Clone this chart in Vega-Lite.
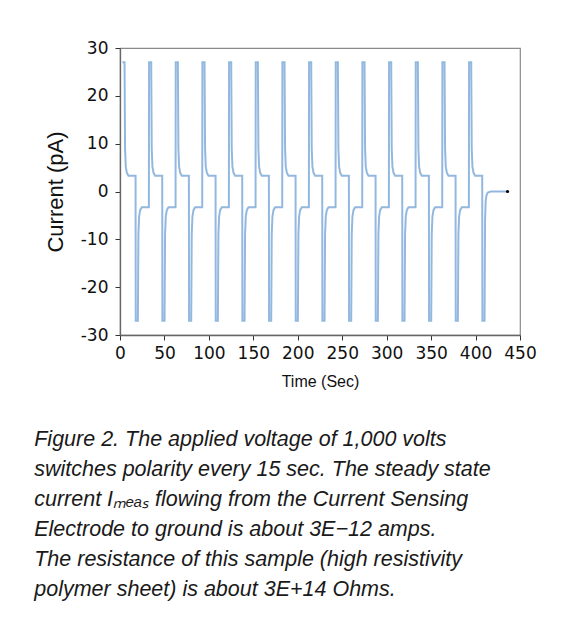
{
  "$schema": "https://vega.github.io/schema/vega-lite/v6.json",
  "width": 400,
  "height": 287,
  "autosize": "none",
  "padding": {"left": 120, "top": 48, "right": 53, "bottom": 283},
  "background": "white",
  "config": {
    "view": {"stroke": "#8a8a8a", "strokeWidth": 1.2},
    "axis": {
      "labelFont": "DejaVu Sans",
      "labelFontSize": 17,
      "labelColor": "#111",
      "titleFont": "Liberation Sans",
      "titleFontWeight": "normal",
      "titleColor": "#111",
      "domainColor": "#666",
      "domainWidth": 1.3,
      "tickColor": "#333",
      "tickSize": 5,
      "grid": false
    }
  },
  "title": {
    "text": [
      "Figure 2. The applied voltage of 1,000 volts",
      "switches polarity every 15 sec. The steady state",
      "current Iₘₑₐₛ flowing from the Current Sensing",
      "Electrode to ground is about 3E−12 amps.",
      "The resistance of this sample (high resistivity",
      "polymer sheet) is about 3E+14 Ohms."
    ],
    "orient": "bottom",
    "anchor": "start",
    "frame": "bounds",
    "font": "Liberation Sans",
    "fontStyle": "italic",
    "fontWeight": "normal",
    "fontSize": 21.5,
    "lineHeight": 30,
    "color": "#1a1a1a",
    "offset": 40,
    "dx": -10
  },
  "layer": [
    {
      "data": {"values": [
        {"t": 2.7, "current": 27}, {"t": 5.1, "current": 27}, {"t": 5.7, "current": 9}, {"t": 6.5, "current": 5.2}, {"t": 7.7, "current": 3.9}, {"t": 9.5, "current": 3.3},
        {"t": 17.5, "current": 3.3}, {"t": 17.7, "current": -27}, {"t": 20.1, "current": -27}, {"t": 20.7, "current": -9}, {"t": 21.5, "current": -5.2}, {"t": 22.7, "current": -3.9}, {"t": 24.5, "current": -3.3},
        {"t": 32.5, "current": -3.3}, {"t": 32.7, "current": 27}, {"t": 35.1, "current": 27}, {"t": 35.7, "current": 9}, {"t": 36.5, "current": 5.2}, {"t": 37.7, "current": 3.9}, {"t": 39.5, "current": 3.3},
        {"t": 47.5, "current": 3.3}, {"t": 47.7, "current": -27}, {"t": 50.1, "current": -27}, {"t": 50.7, "current": -9}, {"t": 51.5, "current": -5.2}, {"t": 52.7, "current": -3.9}, {"t": 54.5, "current": -3.3},
        {"t": 62.5, "current": -3.3}, {"t": 62.7, "current": 27}, {"t": 65.1, "current": 27}, {"t": 65.7, "current": 9}, {"t": 66.5, "current": 5.2}, {"t": 67.7, "current": 3.9}, {"t": 69.5, "current": 3.3},
        {"t": 77.5, "current": 3.3}, {"t": 77.7, "current": -27}, {"t": 80.1, "current": -27}, {"t": 80.7, "current": -9}, {"t": 81.5, "current": -5.2}, {"t": 82.7, "current": -3.9}, {"t": 84.5, "current": -3.3},
        {"t": 92.5, "current": -3.3}, {"t": 92.7, "current": 27}, {"t": 95.1, "current": 27}, {"t": 95.7, "current": 9}, {"t": 96.5, "current": 5.2}, {"t": 97.7, "current": 3.9}, {"t": 99.5, "current": 3.3},
        {"t": 107.5, "current": 3.3}, {"t": 107.7, "current": -27}, {"t": 110.1, "current": -27}, {"t": 110.7, "current": -9}, {"t": 111.5, "current": -5.2}, {"t": 112.7, "current": -3.9}, {"t": 114.5, "current": -3.3},
        {"t": 122.5, "current": -3.3}, {"t": 122.7, "current": 27}, {"t": 125.1, "current": 27}, {"t": 125.7, "current": 9}, {"t": 126.5, "current": 5.2}, {"t": 127.7, "current": 3.9}, {"t": 129.5, "current": 3.3},
        {"t": 137.5, "current": 3.3}, {"t": 137.7, "current": -27}, {"t": 140.1, "current": -27}, {"t": 140.7, "current": -9}, {"t": 141.5, "current": -5.2}, {"t": 142.7, "current": -3.9}, {"t": 144.5, "current": -3.3},
        {"t": 152.5, "current": -3.3}, {"t": 152.7, "current": 27}, {"t": 155.1, "current": 27}, {"t": 155.7, "current": 9}, {"t": 156.5, "current": 5.2}, {"t": 157.7, "current": 3.9}, {"t": 159.5, "current": 3.3},
        {"t": 167.5, "current": 3.3}, {"t": 167.7, "current": -27}, {"t": 170.1, "current": -27}, {"t": 170.7, "current": -9}, {"t": 171.5, "current": -5.2}, {"t": 172.7, "current": -3.9}, {"t": 174.5, "current": -3.3},
        {"t": 182.5, "current": -3.3}, {"t": 182.7, "current": 27}, {"t": 185.1, "current": 27}, {"t": 185.7, "current": 9}, {"t": 186.5, "current": 5.2}, {"t": 187.7, "current": 3.9}, {"t": 189.5, "current": 3.3},
        {"t": 197.5, "current": 3.3}, {"t": 197.7, "current": -27}, {"t": 200.1, "current": -27}, {"t": 200.7, "current": -9}, {"t": 201.5, "current": -5.2}, {"t": 202.7, "current": -3.9}, {"t": 204.5, "current": -3.3},
        {"t": 212.5, "current": -3.3}, {"t": 212.7, "current": 27}, {"t": 215.1, "current": 27}, {"t": 215.7, "current": 9}, {"t": 216.5, "current": 5.2}, {"t": 217.7, "current": 3.9}, {"t": 219.5, "current": 3.3},
        {"t": 227.5, "current": 3.3}, {"t": 227.7, "current": -27}, {"t": 230.1, "current": -27}, {"t": 230.7, "current": -9}, {"t": 231.5, "current": -5.2}, {"t": 232.7, "current": -3.9}, {"t": 234.5, "current": -3.3},
        {"t": 242.5, "current": -3.3}, {"t": 242.7, "current": 27}, {"t": 245.1, "current": 27}, {"t": 245.7, "current": 9}, {"t": 246.5, "current": 5.2}, {"t": 247.7, "current": 3.9}, {"t": 249.5, "current": 3.3},
        {"t": 257.5, "current": 3.3}, {"t": 257.7, "current": -27}, {"t": 260.1, "current": -27}, {"t": 260.7, "current": -9}, {"t": 261.5, "current": -5.2}, {"t": 262.7, "current": -3.9}, {"t": 264.5, "current": -3.3},
        {"t": 272.5, "current": -3.3}, {"t": 272.7, "current": 27}, {"t": 275.1, "current": 27}, {"t": 275.7, "current": 9}, {"t": 276.5, "current": 5.2}, {"t": 277.7, "current": 3.9}, {"t": 279.5, "current": 3.3},
        {"t": 287.5, "current": 3.3}, {"t": 287.7, "current": -27}, {"t": 290.1, "current": -27}, {"t": 290.7, "current": -9}, {"t": 291.5, "current": -5.2}, {"t": 292.7, "current": -3.9}, {"t": 294.5, "current": -3.3},
        {"t": 302.5, "current": -3.3}, {"t": 302.7, "current": 27}, {"t": 305.1, "current": 27}, {"t": 305.7, "current": 9}, {"t": 306.5, "current": 5.2}, {"t": 307.7, "current": 3.9}, {"t": 309.5, "current": 3.3},
        {"t": 317.5, "current": 3.3}, {"t": 317.7, "current": -27}, {"t": 320.1, "current": -27}, {"t": 320.7, "current": -9}, {"t": 321.5, "current": -5.2}, {"t": 322.7, "current": -3.9}, {"t": 324.5, "current": -3.3},
        {"t": 332.5, "current": -3.3}, {"t": 332.7, "current": 27}, {"t": 335.1, "current": 27}, {"t": 335.7, "current": 9}, {"t": 336.5, "current": 5.2}, {"t": 337.7, "current": 3.9}, {"t": 339.5, "current": 3.3},
        {"t": 347.5, "current": 3.3}, {"t": 347.7, "current": -27}, {"t": 350.1, "current": -27}, {"t": 350.7, "current": -9}, {"t": 351.5, "current": -5.2}, {"t": 352.7, "current": -3.9}, {"t": 354.5, "current": -3.3},
        {"t": 362.5, "current": -3.3}, {"t": 362.7, "current": 27}, {"t": 365.1, "current": 27}, {"t": 365.7, "current": 9}, {"t": 366.5, "current": 5.2}, {"t": 367.7, "current": 3.9}, {"t": 369.5, "current": 3.3},
        {"t": 377.5, "current": 3.3}, {"t": 377.7, "current": -27}, {"t": 380.1, "current": -27}, {"t": 380.7, "current": -9}, {"t": 381.5, "current": -5.2}, {"t": 382.7, "current": -3.9}, {"t": 384.5, "current": -3.3},
        {"t": 392.5, "current": -3.3}, {"t": 392.7, "current": 27}, {"t": 395.1, "current": 27}, {"t": 395.7, "current": 9}, {"t": 396.5, "current": 5.2}, {"t": 397.7, "current": 3.9}, {"t": 399.5, "current": 3.3},
        {"t": 407.5, "current": 3.3}, {"t": 407.7, "current": -27}, {"t": 410.1, "current": -27}, {"t": 410.7, "current": -6}, {"t": 411.4, "current": -2}, {"t": 412.3, "current": -0.8}, {"t": 413.8, "current": -0.2}, {"t": 417, "current": 0}, {"t": 436, "current": 0}
      ]},
      "mark": {"type": "line", "color": "#93b8e0", "strokeWidth": 2, "interpolate": "linear"},
      "encoding": {
        "x": {
          "field": "t", "type": "quantitative",
          "scale": {"domain": [0, 450], "nice": false},
          "axis": {"values": [0, 50, 100, 150, 200, 250, 300, 350, 400, 450], "title": "Time (Sec)", "titleFontSize": 16, "labelPadding": 5, "titlePadding": 12, "labelFlush": false}
        },
        "y": {
          "field": "current", "type": "quantitative",
          "scale": {"domain": [-30, 30], "nice": false},
          "axis": {"values": [-30, -20, -10, 0, 10, 20, 30], "title": "Current (pA)", "titleFontSize": 22, "labelPadding": 7, "titlePadding": 13, "labelExpr": "'' + datum.value"}
        }
      }
    },
    {
      "data": {"values": [{"t": 436, "current": 0}]},
      "mark": {"type": "point", "filled": true, "color": "#000", "size": 10, "opacity": 1},
      "encoding": {
        "x": {"field": "t", "type": "quantitative"},
        "y": {"field": "current", "type": "quantitative"}
      }
    }
  ]
}
